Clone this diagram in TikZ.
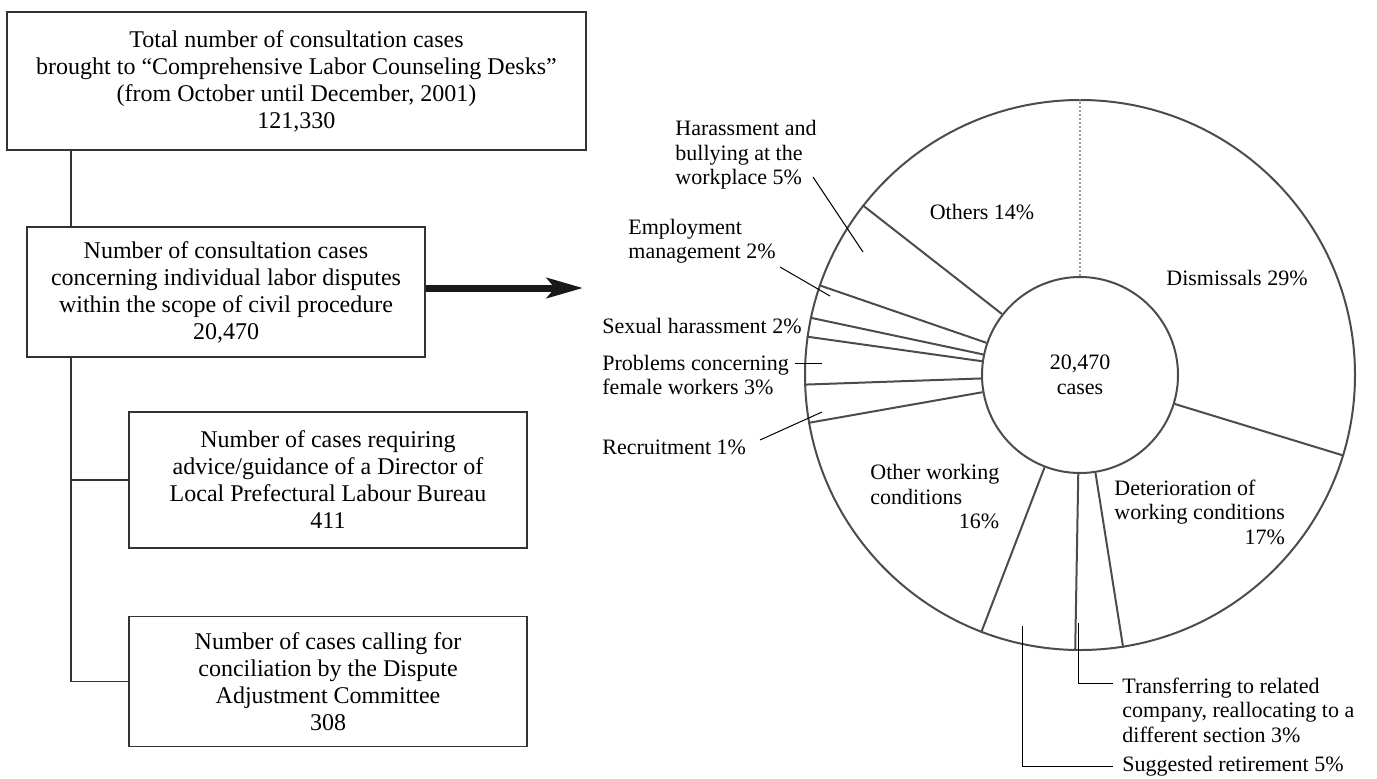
\documentclass[tikz,border=0pt]{standalone}
\usepackage{fontspec}
\setmainfont{Liberation Serif}
\usepackage{tikz}
\usetikzlibrary{arrows.meta}
\usetikzlibrary{positioning}
\tikzstyle{block} = [draw = black!80, line width = 0.75pt, rectangle, align = center, inner sep = 0pt, font = \fontsize{12}{13.5}\selectfont]
\tikzstyle{link} = [draw = black!80, line width = 0.75pt]
\tikzstyle{bigarrow} = [draw = black!90, line width = 3.5pt, -{Stealth[length = 18pt, width = 10pt, inset = 4pt]}]
\tikzstyle{ring} = [draw = black!70, line width = 1pt, circle, inner sep = 0pt, font = \fontsize{11}{12.25}\selectfont, align = center]
\tikzstyle{divider} = [draw = black!70, line width = 1pt]
\tikzstyle{tag} = [inner sep = 0pt, align = left, font = \fontsize{11}{12.25}\selectfont]
\tikzstyle{leader} = [draw = black, line width = 0.5pt]

\begin{document}
\begin{tikzpicture}[x = 0.5pt, y = -0.5pt]
	\useasboundingbox (0,0) rectangle (1377,778);
	
	%Boxes on the left
	\node[block, minimum width = 289.5pt, minimum height = 69pt] (total) at (296.5,81) {Total number of consultation cases\\brought to ``Comprehensive Labor Counseling Desks''\\(from October until December, 2001)\\121,330};
	\node[block, minimum width = 199pt, minimum height = 65pt] (scope) at (226,292) {Number of consultation cases\\concerning individual labor disputes\\within the scope of civil procedure\\20,470};
	\node[block, minimum width = 199pt, minimum height = 68pt] (advice) at (328,480) {Number of cases requiring\\advice/guidance of a Director of\\Local Prefectural Labour Bureau\\411};
	\node[block, minimum width = 199pt, minimum height = 65pt, below = 33.5pt of advice] (concil) {Number of cases calling for\\conciliation by the Dispute\\Adjustment Committee\\308};
	
	% Tree lines
	\coordinate (trunk) at (71,0);
	\draw[link] (trunk |- total.south) -- (trunk |- scope.north);
	\draw[link] (trunk |- scope.south) |- (advice.west);
	\draw[link] (trunk |- advice.west) |- (concil.west);
	
	% Arrow to the pie
	\coordinate (arrowend) at (583,288);
	\draw[bigarrow] (scope.east |- arrowend) -- (arrowend);
	
	% Pie
	\node[ring, minimum size = 275pt] (pie) at (1080,375) {};
	\node[ring, minimum size = 98pt] (hub) at (1080,375) {20,470\\cases};
	\draw[divider, draw = black!40, densely dotted] (hub.90) -- (pie.90);
	\foreach \a in {142,161,168,172,182.5,190,249.6,269,279.5,343}
		\draw[divider] (hub.\a) -- (pie.\a);
	
	% Slice labels
	\node[tag] (others) at (982,212) {Others 14\%};
	\node[tag] (dismiss) at (1237,278) {Dismissals 29\%};
	\node[tag, anchor = west] (harass) at (675,155) {Harassment and\\bullying at the\\workplace 5\%};
	\node[tag, anchor = west] (employ) at (628,241) {Employment\\management 2\%};
	\node[tag, anchor = west] (sexual) at (602,326) {Sexual harassment 2\%};
	\node[tag, anchor = west] (female) at (602,375) {Problems concerning\\female workers 3\%};
	\node[tag, anchor = west] (recruit) at (602,447) {Recruitment 1\%};
	\node[tag, anchor = west] (otherwork) at (870,497) {Other working\\conditions\\\hphantom{Other working}\llap{16\%}};
	\node[tag, anchor = west] (deterior) at (1114,512) {Deterioration of\\working conditions\\\hphantom{working conditions}\llap{17\%}};
	\node[tag, anchor = west] (transfer) at (1122,710) {Transferring to related\\company, reallocating to a\\different section 3\%};
	\node[tag, anchor = west] (retire) at (1122,766) {Suggested retirement 5\%};
	
	% Leaders
	\coordinate (harassA) at (813,177);
	\coordinate (harassB) at (863,252);
	\coordinate (employA) at (780,267);
	\coordinate (employB) at (830,296);
	\coordinate (femaleA) at (795,363);
	\coordinate (femaleB) at (822,363);
	\coordinate (recruitA) at (760,440);
	\coordinate (recruitB) at (822,412);
	\coordinate (transferA) at (1078,623);
	\coordinate (transferB) at (1113,683);
	\coordinate (retireA) at (1022,626);
	\coordinate (retireB) at (1113,766);
	\draw[leader] (harassA) -- (harassB);
	\draw[leader] (employA) -- (employB);
	\draw[leader] (femaleA) -- (femaleB);
	\draw[leader] (recruitA) -- (recruitB);
	\draw[leader] (transferA) |- (transferB);
	\draw[leader] (retireA) |- (retireB);
	
\end{tikzpicture}
\end{document}
